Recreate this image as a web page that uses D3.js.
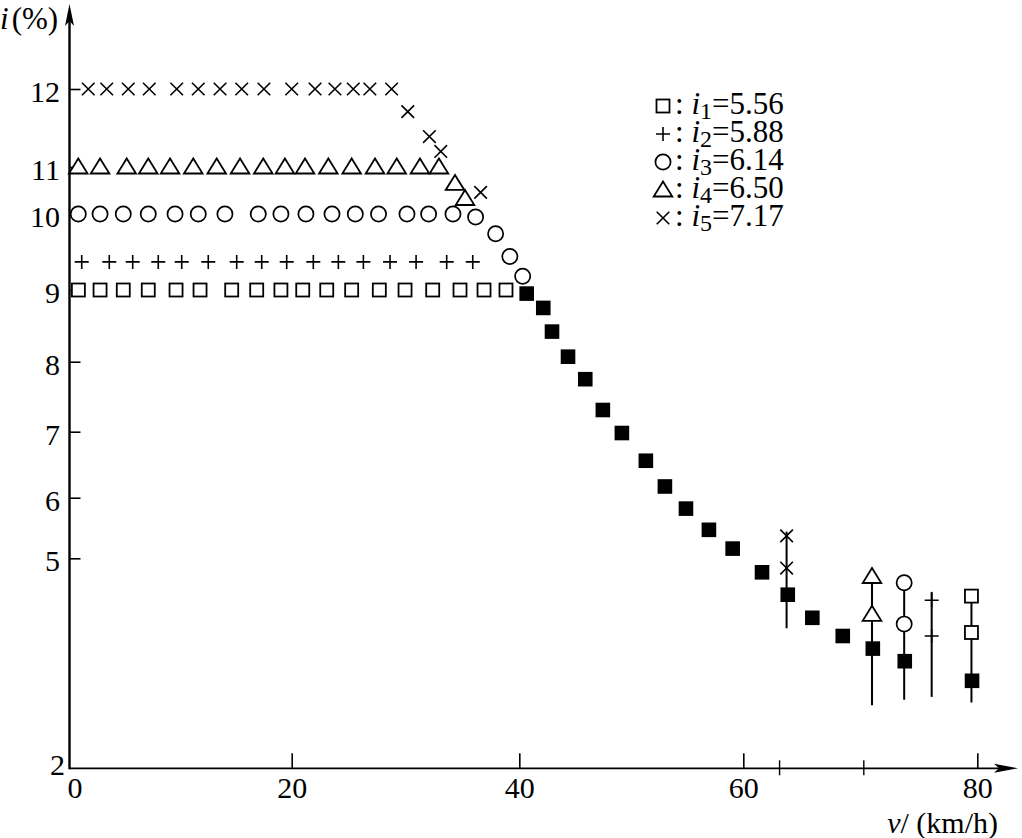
<!DOCTYPE html>
<html><head><meta charset="utf-8">
<script src="https://cdn.jsdelivr.net/npm/d3@7/dist/d3.min.js"></script>
<style>body{margin:0;background:#fff}svg{display:block}</style>
</head><body>
<svg id="c" width="1022" height="838"></svg>
<script>
// ---------- data ----------
const xTicks = [0, 20, 40, 60, 80];
const xMinorTicks = [63.1, 70.3];
const yTicks = [2, 5, 6, 7, 8, 9, 10, 11, 12];

const legendSub = ["1", "2", "3", "4", "5"];
const legendVal = ["5.56", "5.88", "6.14", "6.50", "7.17"];
const legendSym = ["square", "plus", "circle", "triangle", "cross"];

// i1 (open squares)
const s1V = [0.8, 2.75, 4.84, 7.09, 9.59, 11.75, 14.6, 16.85, 19.03, 20.97, 23.08, 25.27, 27.7, 29.96, 32.39, 34.79, 36.9, 38.83];
const s1I = [9, 9, 9, 9, 9, 9, 9, 9, 9, 9, 9, 9, 9, 9, 9, 9, 9, 9];
// i2 (plus)
const s2V = [1.1, 3.58, 5.69, 7.99, 10.1, 12.49, 15.05, 17.3, 19.55, 21.9, 24.1, 26.3, 28.64, 30.93, 33.62, 35.91];
const s2I = [9.37, 9.37, 9.37, 9.37, 9.37, 9.37, 9.37, 9.37, 9.37, 9.37, 9.37, 9.37, 9.37, 9.37, 9.37, 9.37];
// i3 (circles)
const s3V = [0.79, 2.75, 4.84, 7.09, 9.5, 11.59, 13.99, 16.99, 19.03, 21.25, 23.54, 25.59, 27.63, 30.13, 32.03, 34.17, 36.16, 37.92, 39.17, 40.3];
const s3I = [10, 10, 10, 10, 10, 10, 10, 10, 10, 10, 10, 10, 10, 10, 10, 10, 9.96, 9.74, 9.44, 9.18];
// i4 (triangles)
const s4V = [0.79, 2.75, 5.15, 7.09, 9.05, 11.14, 13.25, 15.35, 17.44, 19.39, 21.17, 23.22, 25.27, 27.32, 29.23, 31.27, 32.94, 34.35, 35.23];
const s4I = [11, 11, 11, 11, 11, 11, 11, 11, 11, 11, 11, 11, 11, 11, 11, 11, 11, 10.65, 10.33];
// i5 (crosses)
const s5V = [1.69, 3.35, 5.29, 7.18, 9.65, 11.59, 13.55, 15.5, 17.5, 20.0, 22.05, 23.8, 25.41, 26.87, 28.78, 30.2, 32.1, 33.1, 36.6];
const s5I = [12, 12, 12, 12, 12, 12, 12, 12, 12, 12, 12, 12, 12, 12, 12, 11.71, 11.39, 11.2, 10.46];
// common curve (filled squares)
const fV = [40.66, 42.14, 42.92, 44.35, 45.89, 47.46, 49.16, 51.3, 53.0, 54.88, 56.93, 59.05, 61.6, 63.8, 65.9, 68.5, 71.07, 73.8, 79.55];
const fI = [8.95, 8.75, 8.42, 8.07, 7.75, 7.31, 6.98, 6.56, 6.17, 5.82, 5.47, 5.16, 4.8, 4.48, 4.15, 3.89, 3.71, 3.53, 3.25];
// scatter ranges at high speed
const barSym = ["cross", "triangle", "circle", "plus", "square"];
const barV = [63.7, 71.0, 73.75, 76.1, 79.5];
const barLo = [4.0, 2.9, 2.98, 3.02, 2.94];
const barHi = [5.44, 4.74, 4.65, 4.52, 4.46];
const barMkA = [5.37, 4.74, 4.65, 4.4, 4.46];
const barMkB = [4.86, 4.2, 4.06, 3.89, 3.94];

// ---------- scales ----------
const FONT = "'Liberation Serif','Times New Roman',serif";
const svg = d3.select("#c");
const x = d3.scaleLinear().domain(xTicks).range([69.5, 291.7, 519.3, 743.3, 977.3]);
const y = d3.scaleLinear().domain(yTicks).range([768.3, 558.3, 497.7, 431.7, 361.7, 290, 214, 167, 89]);
const x0 = x(0), y0 = y(2);

// ---------- marker drawing ----------
function marker(g, type, cx, cy) {
  const s = g.append("g").attr("transform", `translate(${cx},${cy})`);
  if (type === "square") {
    s.append("rect").attr("x", -6.5).attr("y", -6.5).attr("width", 13).attr("height", 13)
      .attr("fill", "#fff").attr("stroke", "#000").attr("stroke-width", 1.8);
  } else if (type === "filled") {
    s.append("rect").attr("x", -7.3).attr("y", -7.3).attr("width", 14.6).attr("height", 14.6)
      .attr("fill", "#000");
  } else if (type === "circle") {
    s.append("circle").attr("r", 7.6).attr("fill", "#fff").attr("stroke", "#000").attr("stroke-width", 1.7);
  } else if (type === "triangle") {
    s.append("path").attr("d", "M0,-8.5L9.3,6.5L-9.3,6.5Z")
      .attr("fill", "#fff").attr("stroke", "#000").attr("stroke-width", 1.8).attr("stroke-linejoin", "miter");
  } else if (type === "plus") {
    s.append("path").attr("d", "M-7,0H7M0,-7V7").attr("stroke", "#000").attr("stroke-width", 1.6).attr("fill", "none");
  } else if (type === "cross") {
    s.append("path").attr("d", "M-6.3,-6.3L6.3,6.3M-6.3,6.3L6.3,-6.3").attr("stroke", "#000").attr("stroke-width", 1.6).attr("fill", "none");
  }
}

// ---------- axes ----------
const gx = svg.append("g").attr("transform", `translate(0,${y0})`)
  .call(d3.axisBottom(x).tickValues(xTicks).tickSizeInner(-15).tickSizeOuter(0).tickPadding(8).tickFormat(d3.format("d")));
gx.select(".domain").remove();
gx.selectAll(".tick line").attr("stroke-width", 1.6);
gx.selectAll(".tick text").attr("font-family", FONT).attr("font-size", 30).attr("fill", "#000");
gx.selectAll(".tick").filter(d => d === 0).select("text").attr("x", 5);
gx.selectAll(".tick").filter(d => d === 0).select("line").remove();

const gy = svg.append("g").attr("transform", `translate(${x0},0)`)
  .call(d3.axisLeft(y).tickValues(yTicks).tickSizeInner(-11).tickSizeOuter(0).tickPadding(9.5).tickFormat(d3.format("d")));
gy.select(".domain").remove();
gy.selectAll(".tick line").attr("stroke-width", 1.6);
gy.selectAll(".tick text").attr("font-family", FONT).attr("font-size", 30).attr("fill", "#000").attr("dy", "0.42em");
gy.selectAll(".tick").filter(d => d === 2).select("text").attr("x", -4.5).attr("dy", "0.2em");
gy.selectAll(".tick").filter(d => d === 2).select("line").remove();

// minor ticks crossing the x axis
svg.append("g").selectAll("line").data(xMinorTicks).join("line")
  .attr("x1", d => x(d)).attr("x2", d => x(d)).attr("y1", y0 - 8).attr("y2", y0 + 7)
  .attr("stroke", "#000").attr("stroke-width", 1.4);

// axis lines and arrows
svg.append("line").attr("x1", x0).attr("x2", 1000).attr("y1", y0).attr("y2", y0).attr("stroke", "#000").attr("stroke-width", 1.7);
svg.append("line").attr("x1", x0).attr("x2", x0).attr("y1", y0 + 1).attr("y2", 18).attr("stroke", "#000").attr("stroke-width", 2.4);
svg.append("path").attr("d", `M${x0},4L${x0 + 4.5},26L${x0},21L${x0 - 4.5},26Z`).attr("fill", "#000");
svg.append("path").attr("d", `M1018,${y0}L994,${y0 - 4.5}L999,${y0}L994,${y0 + 4.5}Z`).attr("fill", "#000");

// axis titles
const yt = svg.append("text").attr("x", 0).attr("y", 29).attr("font-family", FONT).attr("font-size", 31).attr("fill", "#000");
yt.append("tspan").attr("font-style", "italic").text("i");
yt.append("tspan").attr("dx", 3).text("(%)");
const xt = svg.append("text").attr("x", 998).attr("y", 833).attr("text-anchor", "end").attr("font-family", FONT).attr("font-size", 30).attr("fill", "#000");
xt.append("tspan").attr("font-style", "italic").text("v");
xt.append("tspan").text("/ (km/h)");

// ---------- scatter ranges ----------
const gb = svg.append("g");
gb.selectAll("line").data(barV).join("line")
  .attr("x1", d => x(d)).attr("x2", d => x(d))
  .attr("y1", (d, i) => y(barHi[i])).attr("y2", (d, i) => y(barLo[i]))
  .attr("stroke", "#000").attr("stroke-width", 2);

// ---------- series ----------
const gm = svg.append("g");
const series = [
  ["square", s1V, s1I], ["plus", s2V, s2I], ["circle", s3V, s3I],
  ["triangle", s4V, s4I], ["cross", s5V, s5I], ["filled", fV, fI]
];
series.forEach(([t, vs, is]) => vs.forEach((v, k) => marker(gm, t, x(v), y(is[k]))));
barV.forEach((v, k) => {
  marker(gm, barSym[k], x(v), y(barMkA[k]));
  marker(gm, barSym[k], x(v), y(barMkB[k]));
});

// ---------- legend ----------
const gl = svg.append("g");
legendSym.forEach((t, k) => {
  const by = 114 + k * 28;
  marker(gl, t, 663, by - 8);
  const tx = gl.append("text").attr("x", 675).attr("y", by).attr("font-family", FONT).attr("font-size", 31).attr("fill", "#000");
  tx.append("tspan").text(": ");
  tx.append("tspan").attr("font-style", "italic").text("i");
  tx.append("tspan").attr("font-size", 24).attr("dy", 5).text(legendSub[k]);
  tx.append("tspan").attr("dy", -5).text("=" + legendVal[k]);
});
</script>
</body></html>
